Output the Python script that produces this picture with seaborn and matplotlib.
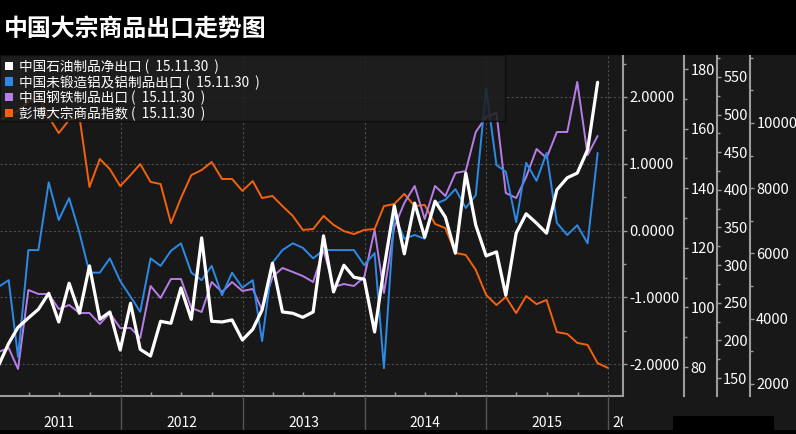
import matplotlib
matplotlib.use('Agg')
import matplotlib.pyplot as plt
import matplotlib.dates as mdates
from matplotlib.patches import Rectangle
from matplotlib.ticker import MultipleLocator, FormatStrFormatter
import seaborn as sns
import pandas as pd

# ---------------- data ----------------
title = '中国大宗商品出口走势图'
series_names = ['中国石油制品净出口', '中国未锻造铝及铝制品出口', '中国钢铁制品出口', '彭博大宗商品指数']
as_of = '15.11.30'
years = [2011, 2012, 2013, 2014, 2015, 2016]

oil_net_export = [
    -2.03, -1.69, -1.45, -1.31, -1.18, -0.94, -1.37, -0.79, -1.24, -0.53,
    -1.33, -1.22, -1.79, -1.09, -1.78, -1.88, -1.36, -1.39, -0.86, -1.33,
    -0.11, -1.36, -1.37, -1.34, -1.64, -1.48, -1.19, -0.49, -1.22, -1.24,
    -1.30, -1.22, -0.08, -0.92, -0.52, -0.70, -0.73, -1.52, -0.57, 0.37,
    -0.35, 0.41, -0.10, 0.44, 0.20, -0.34, 0.86, 0.08, -0.38, -0.32,
    -0.97, -0.04, 0.25, 0.11, -0.04, 0.61, 0.79, 0.86, 1.21, 2.22]

aluminium_export = [
    271, 280, 178, 320, 320, 410, 360, 389, 343, 290,
    290, 309, 279, 258, 238, 309, 299, 319, 329, 290,
    280, 299, 260, 290, 270, 280, 199, 303, 320, 329,
    323, 309, 320, 320, 320, 320, 300, 316, 163, 367,
    335, 340, 335, 381, 387, 401, 376, 393, 535, 433,
    424, 357, 436, 412, 449, 356, 340, 353, 329, 449]

steel_export = [
    2981, 3103, 2460, 4881, 4759, 4759, 4299, 4421, 4176, 4176,
    3839, 4176, 3716, 3716, 3410, 5004, 4636, 5218, 5218, 4330,
    4207, 5126, 4820, 5126, 4851, 4912, 4268, 5280, 5556, 5433,
    5310, 5126, 6107, 4973, 5065, 5004, 5280, 6720, 4789, 6812,
    7548, 8069, 7057, 8069, 7762, 8467, 8529, 9724, 10184, 10307,
    7854, 7701, 8345, 9203, 8927, 9724, 9724, 11257, 9019, 9601]

bcom_index = [
    162.9, 164.2, 166.0, 169.0, 171.0, 163.9, 158.5, 162.9, 163.9, 140.4,
    149.8, 146.4, 140.7, 144.4, 148.1, 142.1, 141.4, 128.3, 136.7, 144.4,
    146.1, 148.8, 143.1, 143.1, 139.1, 142.4, 136.7, 137.4, 134.0, 130.7,
    126.0, 126.3, 130.7, 127.7, 125.6, 124.6, 126.0, 126.3, 134.0, 134.7,
    138.1, 134.0, 134.4, 128.0, 126.6, 118.3, 117.6, 112.6, 104.2, 100.8,
    103.5, 98.1, 103.8, 101.1, 102.5, 91.7, 91.1, 88.1, 87.4, 81.3,
    79.7]

dates = pd.date_range('2010-12-01', periods=len(oil_net_export), freq='MS') + pd.offsets.MonthEnd(0)
dates_bcom = pd.date_range('2010-12-01', periods=len(bcom_index), freq='MS') + pd.offsets.MonthEnd(0)

oil_ticks = [-2, -1, 0, 1, 2]
bcom_ticks = [80, 100, 120, 140, 160, 180]
alu_ticks = [150, 200, 250, 300, 350, 400, 450, 500, 550]
steel_ticks = [2000, 4000, 6000, 8000, 10000]

# ---------------- style ----------------
BG = '#181818'
SP = '#9c9c9c'
GRID = '#4e4e4e'
C_WHITE = '#ffffff'
C_BLUE = '#2d8ae6'
C_PURPLE = '#b77ee8'
C_ORANGE = '#f4620f'

sns.set_theme(style='dark', rc={'axes.facecolor': BG, 'figure.facecolor': BG})
plt.rcParams['font.family'] = ['Noto Sans CJK SC', 'DejaVu Sans']
plt.rcParams['axes.unicode_minus'] = False

W, H = 796, 434
def fx(px):
    return px / W
def fy(py):
    return 1 - py / H

fig = plt.figure(figsize=(W / 100, H / 100), dpi=100, facecolor=BG)
ax = fig.add_axes([0, fy(396), fx(623), (396 - 55) / H])
ax.set_facecolor(BG)
ax_bcom = ax.twinx()
ax_steel = ax.twinx()
ax_alu = ax.twinx()
ax_oil = ax.twinx()

sns.lineplot(x=dates_bcom, y=bcom_index, ax=ax_bcom, color=C_ORANGE, linewidth=1.4)
sns.lineplot(x=dates, y=steel_export, ax=ax_steel, color=C_PURPLE, linewidth=1.4)
sns.lineplot(x=dates, y=aluminium_export, ax=ax_alu, color=C_BLUE, linewidth=1.4)
sns.lineplot(x=dates, y=oil_net_export, ax=ax_oil, color=C_WHITE, linewidth=2.3)

x0, x1 = pd.Timestamp('2011-01-05'), pd.Timestamp('2016-02-14')
ax.set_xlim(x0, x1)

ax.set_ylim(-2.479, 2.629)
ax_oil.set_ylim(-2.479, 2.629)
ax_bcom.set_ylim(70.27, 184.7)
ax_alu.set_ylim(126.1, 579.2)
ax_steel.set_ylim(1632, 12084)

for a in [ax, ax_bcom, ax_steel, ax_alu, ax_oil]:
    a.set_xlabel('')
    a.set_ylabel('')
    a.spines['top'].set_visible(False)
    a.spines['left'].set_visible(False)
    if a is not ax:
        a.spines['bottom'].set_visible(False)

# main (oil) scale axis on the right
ax.yaxis.tick_right()
ax.set_yticks(oil_ticks)
ax.yaxis.set_major_formatter(FormatStrFormatter('%.4f'))
ax.yaxis.set_minor_locator(MultipleLocator(0.5))
ax.spines['right'].set_color(SP)
ax.spines['right'].set_linewidth(1.5)
ax.spines['bottom'].set_color(SP)
ax.spines['bottom'].set_linewidth(1.5)

# x axis: year grid + quarterly minor ticks
ax.xaxis.set_major_locator(mdates.YearLocator())
ax.xaxis.set_minor_locator(mdates.MonthLocator(bymonth=[4, 7, 10]))
ax.tick_params(axis='x', which='major', length=0, labelbottom=False)
ax.tick_params(axis='x', which='minor', bottom=True, direction='in', length=3,
               width=1, color=SP)
ax.grid(True, which='major', axis='both', color=GRID, linestyle=(0, (2, 2)), linewidth=0.8)

ax_oil.set_yticks([])
for s in ax_oil.spines.values():
    s.set_visible(False)

offsets = {ax_bcom: 61, ax_alu: 94, ax_steel: 127}
ax_bcom.set_yticks(bcom_ticks)
ax_bcom.yaxis.set_minor_locator(MultipleLocator(10))
ax_alu.set_yticks(alu_ticks)
ax_alu.yaxis.set_minor_locator(MultipleLocator(25))
ax_steel.set_yticks(steel_ticks)
ax_steel.yaxis.set_minor_locator(MultipleLocator(1000))
for a, off in offsets.items():
    a.spines['right'].set_position(('outward', off * 0.72))
    a.spines['right'].set_color(SP)
    a.spines['right'].set_linewidth(1.5)
    a.grid(False)

for a in [ax, ax_bcom, ax_alu, ax_steel]:
    a.tick_params(axis='y', which='major', right=True, direction='out', length=3,
                  width=1, color=SP, labelcolor='white', labelsize=10.5, pad=1.5)
    a.tick_params(axis='y', which='minor', right=True, direction='out', length=2,
                  width=1, color=SP)

# ---------------- x label band ----------------
band = fig.add_axes([0, fy(430), fx(623), (430 - 396) / H])
band.set_facecolor('none')
for s in band.spines.values():
    s.set_visible(False)
band.set_xticks([])
band.set_yticks([])
band.set_xlim(mdates.date2num(x0), mdates.date2num(x1))
band.set_ylim(0, 1)
for y in years:
    xs = mdates.date2num(pd.Timestamp(f'{y}-01-01'))
    band.axvline(xs, color='#555555', linewidth=1)
    if y < 2016:
        xm = mdates.date2num(pd.Timestamp(f'{y}-07-02'))
        band.text(xm, 0.22, str(y), ha='center', va='center', color='white',
                  fontsize=10, clip_on=True)
    else:
        band.text(xs + 12, 0.22, str(y), ha='left', va='center', color='white',
                  fontsize=10, clip_on=True)

# ---------------- title & decorations ----------------
fig.add_artist(Rectangle((0, fy(55)), 1, 55 / H, transform=fig.transFigure,
                         facecolor='black', edgecolor='none', zorder=1))
fig.add_artist(Rectangle((0, 0), 1, 4 / H, transform=fig.transFigure,
                         facecolor='black', edgecolor='none', zorder=1))
fig.add_artist(Rectangle((fx(673), 0), fx(774) - fx(673), (434 - 416) / H,
                         transform=fig.transFigure, facecolor='black',
                         edgecolor='none', zorder=1))
fig.text(fx(4), fy(29), title, color='white', fontsize=17.2, fontweight='bold',
         va='center', ha='left', zorder=3)

# ---------------- legend ----------------
fig.add_artist(Rectangle((0, fy(121)), fx(505), (121 - 55) / H, transform=fig.transFigure,
                         facecolor='#1e1e1e', edgecolor='#0c0c0c', linewidth=1,
                         alpha=0.85, zorder=2))
colors = [C_WHITE, C_BLUE, C_PURPLE, C_ORANGE]
rows = [67, 82.5, 98, 114]
for name, col, ry in zip(series_names, colors, rows):
    fig.add_artist(Rectangle((fx(5), fy(ry + 3)), fx(8), 8 / H, transform=fig.transFigure,
                             facecolor=col, edgecolor='none', zorder=3))
    fig.text(fx(19), fy(ry), f'{name} (  {as_of}  )', color='white', fontsize=9.8,
             va='center', ha='left', zorder=4)

fig.savefig('out.png', dpi=100, facecolor=fig.get_facecolor())
